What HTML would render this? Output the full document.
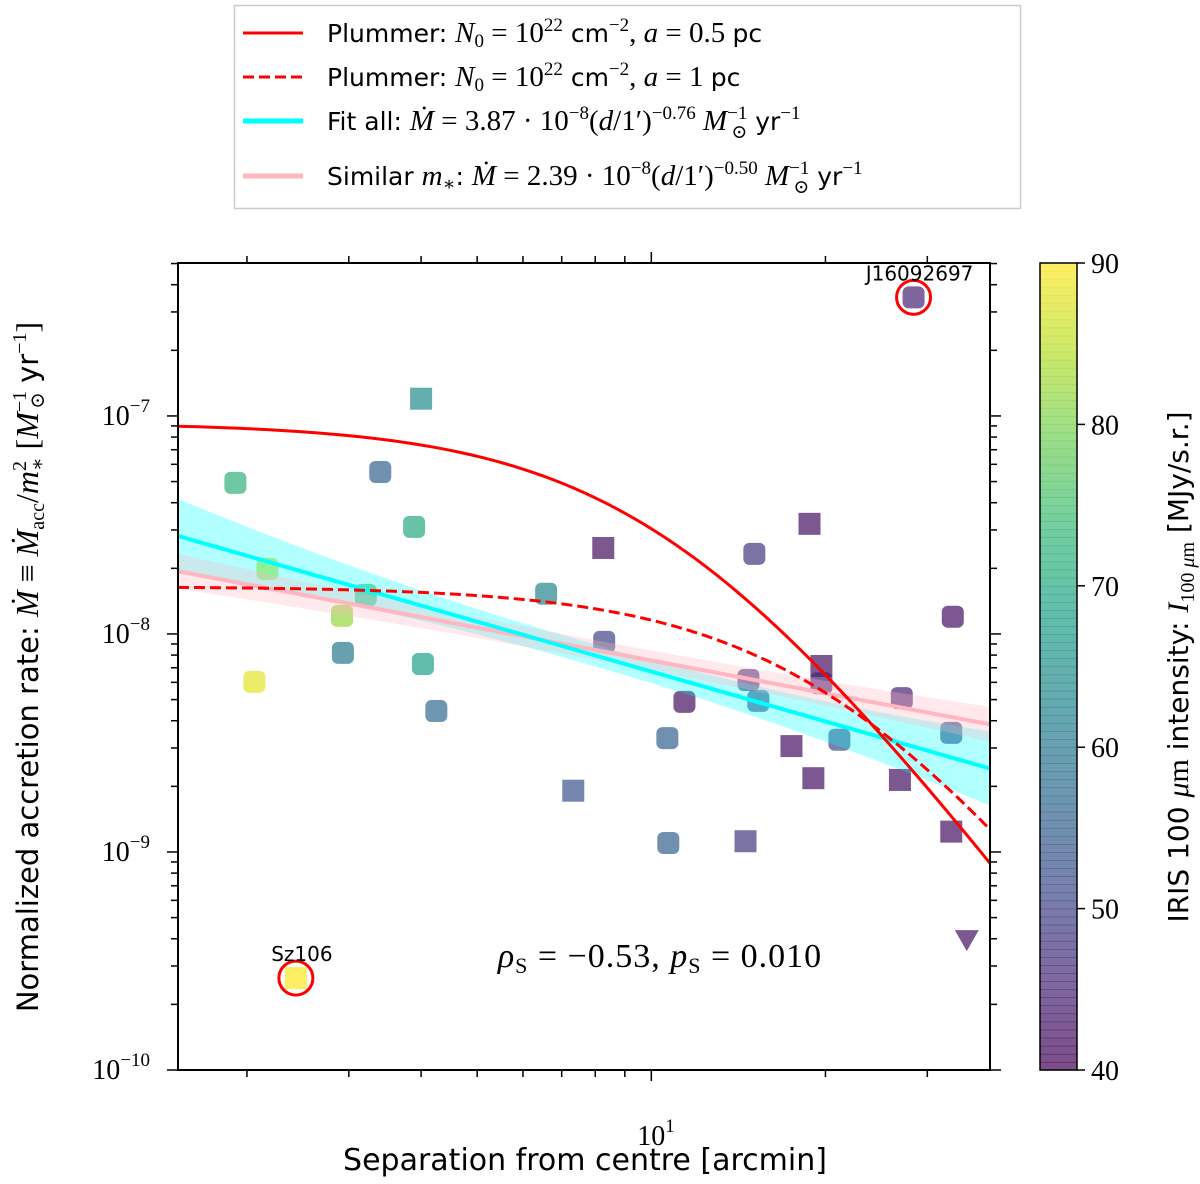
<!DOCTYPE html>
<html><head><meta charset="utf-8"><style>
body{margin:0;background:#fff;}
svg{display:block;}
.s{font-family:"DejaVu Sans","Liberation Sans",sans-serif;}
.m{font-family:"Liberation Serif","DejaVu Serif",serif;}
</style></head><body>
<svg id="chart" width="1200" height="1184" viewBox="0 0 1200 1184" xmlns="http://www.w3.org/2000/svg">
<defs><clipPath id="clip"><rect x="178" y="263" width="812" height="807"/></clipPath></defs>
<g id="marks" clip-path="url(#clip)"></g>
<g id="axes"></g>
<g>
<rect x="234.5" y="5.5" width="786" height="203" fill="#fff" stroke="#ccc" stroke-width="1.5"/>
<line x1="243" y1="33" x2="303" y2="33" stroke="#f00" stroke-width="3"/>
<line x1="243" y1="77" x2="303" y2="77" stroke="#f00" stroke-width="3" stroke-dasharray="11,5"/>
<line x1="243" y1="121" x2="303" y2="121" stroke="#0ff" stroke-width="5"/>
<line x1="243" y1="176" x2="303" y2="176" stroke="#ffb6c1" stroke-width="5"/>
<text x="327" y="42" font-size="25" class="s">Plummer: <tspan class="m" font-style="italic" font-size="29">N</tspan><tspan class="m" font-size="19" dy="5">0</tspan><tspan class="m" font-size="29" dy="-5"> = 10</tspan><tspan class="m" font-size="19" dy="-11">22</tspan><tspan dy="11"> cm</tspan><tspan class="m" font-size="19" dy="-11">−2</tspan><tspan class="m" font-size="29" dy="11">, </tspan><tspan class="m" font-size="29" font-style="italic">a</tspan><tspan class="m" font-size="29"> = 0.5 </tspan>pc</text>
<text x="327" y="86" font-size="25" class="s">Plummer: <tspan class="m" font-style="italic" font-size="29">N</tspan><tspan class="m" font-size="19" dy="5">0</tspan><tspan class="m" font-size="29" dy="-5"> = 10</tspan><tspan class="m" font-size="19" dy="-11">22</tspan><tspan dy="11"> cm</tspan><tspan class="m" font-size="19" dy="-11">−2</tspan><tspan class="m" font-size="29" dy="11">, </tspan><tspan class="m" font-size="29" font-style="italic">a</tspan><tspan class="m" font-size="29"> = 1 </tspan>pc</text>
<text x="327" y="130" font-size="25" class="s">Fit all: <tspan class="m" font-size="29" font-style="italic">Ṁ</tspan><tspan class="m" font-size="29"> = 3.87 · 10</tspan><tspan class="m" font-size="19" dy="-11">−8</tspan><tspan class="m" font-size="29" dy="11">(</tspan><tspan class="m" font-size="29" font-style="italic">d</tspan><tspan class="m" font-size="29">/1′)</tspan><tspan class="m" font-size="19" dy="-11">−0.76</tspan><tspan class="m" font-size="29" font-style="italic" dy="11">  M</tspan><tspan class="m" font-size="19" dy="-11">−1</tspan><tspan class="m" font-size="19" dy="19" dx="-16">⊙</tspan><tspan dy="-8">   yr</tspan><tspan class="m" font-size="19" dy="-11">−1</tspan></text>
<text x="327" y="185" font-size="25" class="s">Similar <tspan class="m" font-size="29" font-style="italic">m</tspan><tspan class="m" font-size="19" dy="5">∗</tspan><tspan dy="-5">: </tspan><tspan class="m" font-size="29" font-style="italic">Ṁ</tspan><tspan class="m" font-size="29"> = 2.39 · 10</tspan><tspan class="m" font-size="19" dy="-11">−8</tspan><tspan class="m" font-size="29" dy="11">(</tspan><tspan class="m" font-size="29" font-style="italic">d</tspan><tspan class="m" font-size="29">/1′)</tspan><tspan class="m" font-size="19" dy="-11">−0.50</tspan><tspan class="m" font-size="29" font-style="italic" dy="11">  M</tspan><tspan class="m" font-size="19" dy="-11">−1</tspan><tspan class="m" font-size="19" dy="19" dx="-16">⊙</tspan><tspan dy="-8">   yr</tspan><tspan class="m" font-size="19" dy="-11">−1</tspan></text>
</g>
<text x="585" y="1170" font-size="30" text-anchor="middle" class="s">Separation from centre [arcmin]</text>
<text transform="translate(38,667) rotate(-90)" font-size="29" text-anchor="middle" class="s">Normalized accretion rate: <tspan class="m" font-size="32" font-style="italic">Ṁ</tspan><tspan class="m" font-size="32"> ≡ </tspan><tspan class="m" font-size="32" font-style="italic">Ṁ</tspan><tspan class="m" font-size="20" dy="6">acc</tspan><tspan class="m" font-size="32" dy="-6">/</tspan><tspan class="m" font-size="32" font-style="italic">m</tspan><tspan class="m" font-size="20" dy="-12">2</tspan><tspan class="m" font-size="20" dy="18" dx="-10">∗</tspan><tspan class="m" font-size="32" dy="-6"> [</tspan><tspan class="m" font-size="32" font-style="italic">M</tspan><tspan class="m" font-size="20" dy="-12">−1</tspan><tspan class="m" font-size="20" dy="18" dx="-18">⊙</tspan><tspan dy="-6">  yr</tspan><tspan class="m" font-size="20" dy="-12">−1</tspan><tspan class="m" font-size="32" dy="12">]</tspan></text>
<text x="660" y="967" font-size="34" text-anchor="middle" class="m" letter-spacing="1"><tspan font-style="italic">ρ</tspan><tspan font-size="22" dy="6">S</tspan><tspan dy="-6"> = −0.53, </tspan><tspan font-style="italic">p</tspan><tspan font-size="22" dy="6">S</tspan><tspan dy="-6"> = 0.010</tspan></text>
<text transform="translate(1188,667) rotate(-90)" font-size="28" text-anchor="middle" class="s">IRIS 100 <tspan class="m" font-size="30" font-style="italic">μ</tspan><tspan class="m" font-size="30">m</tspan> intensity: <tspan class="m" font-size="30" font-style="italic">I</tspan><tspan class="m" font-size="20" dy="6">100 </tspan><tspan class="m" font-size="20" font-style="italic">μ</tspan><tspan class="m" font-size="20">m</tspan><tspan dy="-6"> [MJy/s.r.]</tspan></text>
<g id="cbar"></g>
<script>
const xVals=[1.91,2.17,2.06,2.92,2.93,3.40,3.21,3.89,4.03,4.25,4.00,6.58,8.26,8.29,7.33,10.66,10.70,11.41,14.55,14.72,15.31,15.07,17.47,18.77,19.06,19.68,19.68,21.14,27.1,26.9,33.2,33.0,33.0,35.1,28.4,2.43];
const yVals=[4.93e-8,1.99e-8,6.03e-9,1.21e-8,8.19e-9,5.53e-8,1.51e-8,3.10e-8,7.28e-9,4.43e-9,1.20e-7,1.53e-8,2.48e-8,9.2e-9,1.91e-9,3.33e-9,1.10e-9,4.88e-9,1.12e-9,6.15e-9,4.93e-9,2.33e-8,3.06e-9,3.20e-8,2.18e-9,7.13e-9,5.94e-9,3.27e-9,5.08e-9,2.14e-9,1.20e-8,3.52e-9,1.24e-9,3.9e-10,3.5e-7,2.64e-10];
const cVals=[72,85,88,82,60,55,75,70,68,57,64,63,42,50,53,55,55,42,48,48,53,48,42,42,42,42,45,52,45,42,42,50,42,42,45,90];
const shapes=["r","r","r","r","r","r","r","r","r","r","s","r","s","r","s","r","r","r","s","r","r","r","s","s","s","s","r","r","r","s","r","r","s","v","r","s"];
const labelled=[[34,"J16092697"],[35,"Sz106"]];
const fitAll=[3.87e-8,-0.76], fitSim=[2.39e-8,-0.50];
const bandAll=[0.05,0.17], bandSim=[0.045,0.08];
const plummer05=[9.3e-8,10.57,1.75], plummer1=[1.65e-8,21.1,1.75];
const xTicks=[10], xTickExp=["1"], yTicks=[-10,-9,-8,-7], cTicks=[40,50,60,70,80,90];

const NS="http://www.w3.org/2000/svg";
const X0=178,X1=990,Y0=263,Y1=1070;
const lx0=Math.log10(1.52),lx1=Math.log10(38.5),ly0=-10,ly1=Math.log10(5.03e-7);
const sx=d=>X0+(Math.log10(d)-lx0)/(lx1-lx0)*(X1-X0);
const sy=v=>Y1-(Math.log10(v)-ly0)/(ly1-ly0)*(Y1-Y0);
const vir=[[68,1,84],[72,40,120],[62,74,137],[49,104,142],[38,130,142],[31,158,137],[53,183,121],[109,205,89],[180,222,44],[253,231,37]];
function cmap(v){let t=Math.max(0,Math.min(1,(v-40)/50))*9;let i=Math.min(8,Math.floor(t)),f=t-i;const c=vir[i].map((a,k)=>Math.round(a+(vir[i+1][k]-a)*f));return `rgb(${c})`;}
function mk(tag,attrs,parent){const e=document.createElementNS(NS,tag);for(const k in attrs)e.setAttribute(k,attrs[k]);parent.appendChild(e);return e;}
function powText(parent,attrs,base,exp){const t=mk('text',attrs,parent);const a=mk('tspan',{},t);a.textContent=base;const b=mk('tspan',{'font-size':19,dy:-13},t);b.textContent=exp;return t;}
const marks=document.getElementById('marks'), axes=document.getElementById('axes');
xVals.forEach((d,i)=>{const cx=sx(d),cy=sy(yVals[i]);let e;
 if(shapes[i]==="v"){e=mk('polygon',{points:`${cx-12},${cy-11} ${cx+12},${cy-11} ${cx},${cy+10}`,fill:cmap(cVals[i]),'fill-opacity':0.7},marks);}
 else e=mk('rect',{x:cx-11,y:cy-11,width:22,height:22,rx:shapes[i]==="r"?6:0,fill:cmap(cVals[i]),'fill-opacity':0.7},marks);
 
 });
const N=80, xs=[];for(let k=0;k<=N;k++)xs.push(Math.pow(10,lx0+(lx1-lx0)*k/N));
const lc=(lx0+lx1)/2, hw=(lx1-lx0)/2;
function band(fit,bw,color,op,name){let up=[],lo=[];xs.forEach(d=>{const t=(Math.log10(d)-lc)/hw;const w=bw[0]+(bw[1]-bw[0])*t*t;const v=fit[0]*Math.pow(d,fit[1]);up.push(`${sx(d)},${sy(v*Math.pow(10,w))}`);lo.unshift(`${sx(d)},${sy(v/Math.pow(10,w))}`);});
 const e=mk('polygon',{points:up.concat(lo).join(' '),fill:color,'fill-opacity':op},marks);
 
 }
band(fitAll,bandAll,'#00ffff',0.3,'fit-all-band');
band(fitSim,bandSim,'#ffb6c1',0.3,'similar-band');
function curve(f,attrs,name){const p=xs.map(d=>`${sx(d)},${sy(f(d))}`).join(' ');const e=mk('polyline',Object.assign({points:p,fill:'none'},attrs),marks);
 
 }
curve(d=>fitSim[0]*Math.pow(d,fitSim[1]),{stroke:'#ffb6c1','stroke-width':4},'similar-fit-line');
curve(d=>fitAll[0]*Math.pow(d,fitAll[1]),{stroke:'#00ffff','stroke-width':4},'fit-all-line');
const pl=p=>d=>p[0]*Math.pow(1+Math.pow(d/p[1],2),-p[2]);
curve(pl(plummer05),{stroke:'#f00','stroke-width':3},'plummer-05-line');
curve(pl(plummer1),{stroke:'#f00','stroke-width':3,'stroke-dasharray':'11,5'},'plummer-1-line');
labelled.forEach(([i,t])=>{const cx=sx(xVals[i]),cy=sy(yVals[i]);
 const c=mk('circle',{cx:cx,cy:cy,r:17,fill:'none',stroke:'#f00','stroke-width':3},axes);
 
 
 const tx=mk('text',{x:cx+6,y:cy-17,'font-size':20,'text-anchor':'middle','class':'s'},axes);tx.textContent=t;
 
 });
const fr=mk('rect',{x:X0,y:Y0,width:X1-X0,height:Y1-Y0,fill:'none',stroke:'#000','stroke-width':2},axes);


for(let dec=1;dec<=10;dec*=10)for(let m=1;m<10;m++){const d=m*dec;if(d<1.52||d>38.5)continue;const x=sx(d),L=(m===1)?11:7;
 [[Y1,Y1+L],[Y0,Y0-L]].forEach(([a,b])=>{const l=mk('line',{x1:x,x2:x,y1:a,y2:b,stroke:'#000','stroke-width':1.5},axes);
 
 });}
xTicks.forEach((d,i)=>{const t=powText(axes,{x:sx(d)-14,y:1145,'font-size':28,'class':'m'},'10',xTickExp[i]);
 
 });
for(let e=-10;e<=-7;e++)for(let m=1;m<10;m++){const v=m*Math.pow(10,e);if(v>5.03e-7)continue;const y=sy(v),L=(m===1)?11:7;
 [[X0,X0-L],[X1,X1+L]].forEach(([a,b])=>{const l=mk('line',{x1:a,x2:b,y1:y,y2:y,stroke:'#000','stroke-width':1.5},axes);
 
 });}
yTicks.forEach(e=>{const t=powText(axes,{x:150,y:sy(Math.pow(10,e))+9,'font-size':28,'text-anchor':'end','class':'m'},'10','−'+(-e));
 
 });
const cb=document.getElementById('cbar');const CX=1040,CW=37;
for(let k=0;k<100;k++){const v=40+50*k/100;const y=Y1-(k+1)*(Y1-Y0)/100;mk('rect',{x:CX,y:y,width:CW,height:(Y1-Y0)/100+0.6,fill:cmap(v+0.25),'fill-opacity':0.7},cb);}
const cf=mk('rect',{x:CX,y:Y0,width:CW,height:Y1-Y0,fill:'none',stroke:'#000','stroke-width':1.5},cb);


cTicks.forEach(v=>{const y=Y1-(v-40)/50*(Y1-Y0);mk('line',{x1:CX+CW,x2:CX+CW+8,y1:y,y2:y,stroke:'#000','stroke-width':1.5},cb);
 const t=mk('text',{x:CX+CW+14,y:y+10,'font-size':28,'class':'m'},cb);t.textContent=v;
 
 });
</script>
</svg>
</body></html>
